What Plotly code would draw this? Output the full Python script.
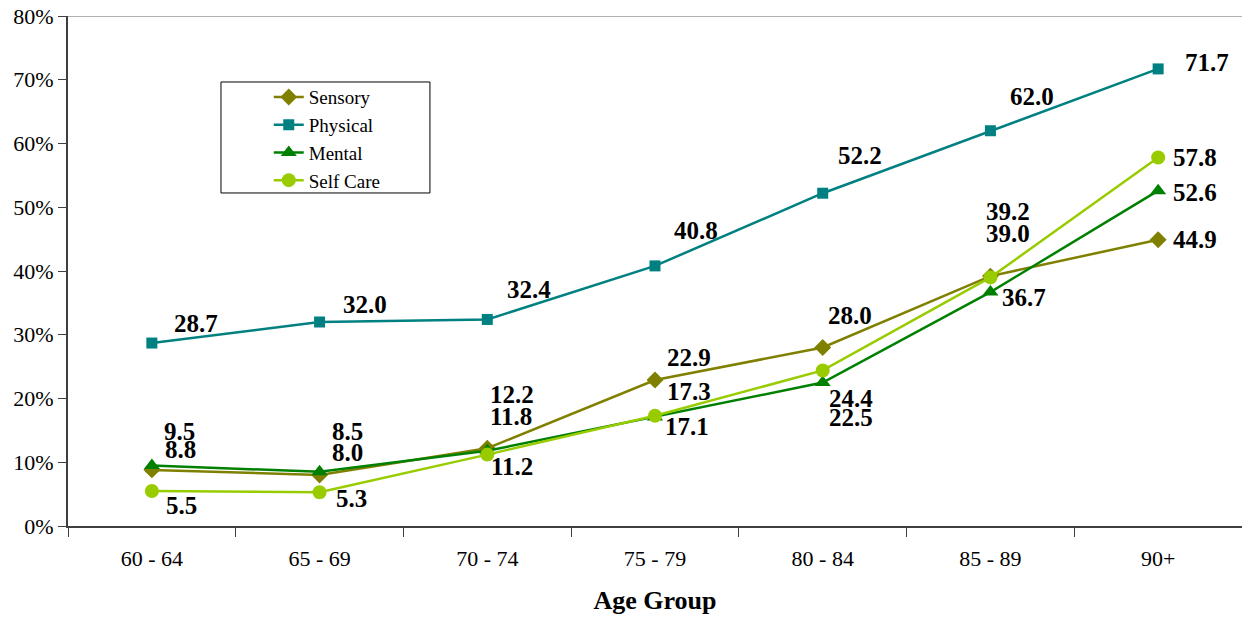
import plotly.graph_objects as go

age_groups = ["60 - 64", "65 - 69", "70 - 74", "75 - 79", "80 - 84", "85 - 89", "90+"]
sensory = [8.8, 8.0, 12.2, 22.9, 28.0, 39.2, 44.9]
physical = [28.7, 32.0, 32.4, 40.8, 52.2, 62.0, 71.7]
mental = [9.5, 8.5, 11.8, 17.1, 22.5, 36.7, 52.6]
self_care = [5.5, 5.3, 11.2, 17.3, 24.4, 39.0, 57.8]
y_ticks = [0, 10, 20, 30, 40, 50, 60, 70, 80]

FONT = "Liberation Serif, Times New Roman, serif"

series = [
    ("Sensory", sensory, "#808000", "diamond", 13),
    ("Physical", physical, "#008080", "square", 11),
    ("Mental", mental, "#008000", "triangle-up", 14),
    ("Self Care", self_care, "#99CC00", "circle", 14),
]

# label offsets (pixels) per series per category: (dx, dy) with dy positive = up
offsets = {
    "Sensory":  [(29, 20), (28, 23), (25, 54), (34, 23), (27, 32), (18, 65), (37, 0)],
    "Physical": [(44, 20), (45, 18), (42, 30), (41, 35), (37, 38), (42, 34), (49, 6)],
    "Mental":   [(28, 34), (28, 40), (24, 34), (32, -10), (28, -35), (34, -5), (37, -2)],
    "Self Care": [(30, -15), (32, -6), (25, -12), (34, 24), (28, -28), (18, 44), (37, 0)],
}

fig = go.Figure()
annotations = []
for name, vals, color, sym, size in series:
    fig.add_trace(go.Scatter(
        x=age_groups, y=vals, name=name, mode="lines+markers",
        line=dict(color=color, width=2.5),
        marker=dict(symbol=sym, size=size, color=color),
    ))
    for i, (cat, v) in enumerate(zip(age_groups, vals)):
        dx, dy = offsets[name][i]
        annotations.append(dict(
            x=cat, y=v, xref="x", yref="y", text=f"<b>{v:.1f}</b>",
            showarrow=False, xshift=dx, yshift=dy,
            font=dict(family=FONT, size=25, color="black"),
        ))

# top border line and legend frame
fig.add_shape(type="line", xref="paper", yref="y", x0=0, x1=1, y0=80, y1=80,
              line=dict(color="#999999", width=1.5), layer="below")
fig.add_shape(type="rect", xref="paper", yref="paper",
              x0=0.1303, x1=0.3083, y0=0.653, y1=0.8706,
              line=dict(color="black", width=1), fillcolor="white", layer="below")

fig.update_layout(
    width=1242, height=618,
    margin=dict(l=68, r=0, t=16, b=92),
    paper_bgcolor="white", plot_bgcolor="white",
    font=dict(family=FONT, size=20, color="black"),
    showlegend=True,
    legend=dict(
        x=0.171, y=0.878, xanchor="left", yanchor="top",
        borderwidth=0, bgcolor="rgba(0,0,0,0)",
        font=dict(family=FONT, size=19, color="black"),
    ),
    annotations=annotations,
    xaxis=dict(
        type="category", range=[-0.5, len(age_groups) - 0.5],
        showline=True, linecolor="#404040", linewidth=2,
        ticks="outside", tickson="boundaries", ticklen=9, tickcolor="#404040",
        ticklabelstandoff=12,
        tickfont=dict(family=FONT, size=22), showgrid=False, zeroline=False,
        title=dict(text="<b>Age Group</b>", font=dict(family=FONT, size=26), standoff=20),
    ),
    yaxis=dict(
        range=[0, 80], tickvals=y_ticks, ticktext=[f"{t}%" for t in y_ticks],
        showline=True, linecolor="#404040", linewidth=2, automargin=False,
        ticks="outside", ticklen=8, tickcolor="#404040", ticklabeloverflow="allow",
        tickfont=dict(family=FONT, size=22), showgrid=False, zeroline=False,
    ),
)

# remove the default 8px page margin so the figure fills the window exactly
fig.write_html("out.html", config={"displayModeBar": False},
               post_script="document.body.style.margin='0';")
